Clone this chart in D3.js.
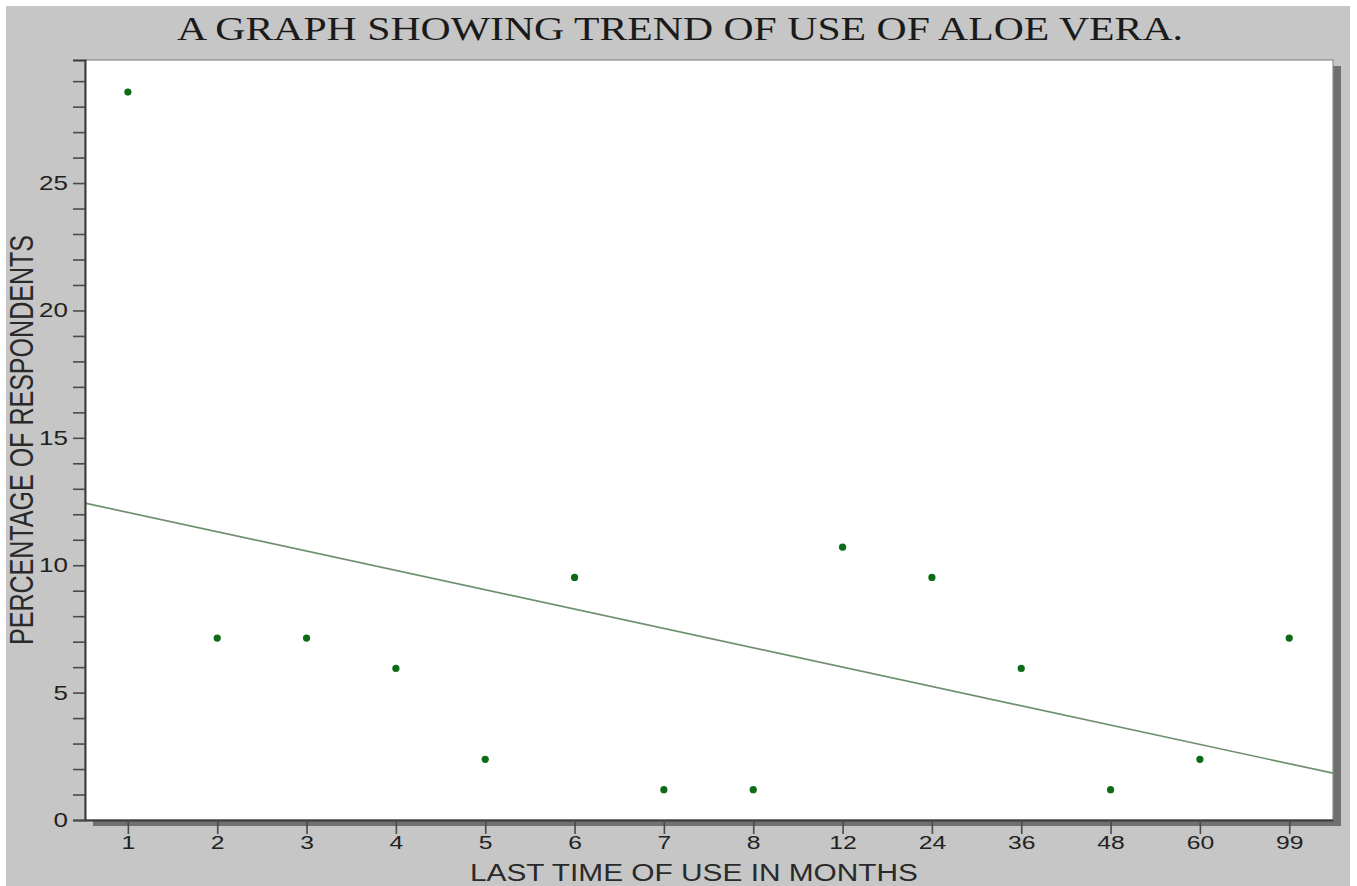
<!DOCTYPE html>
<html>
<head>
<meta charset="utf-8">
<script src="https://cdn.jsdelivr.net/npm/d3@7"></script>
<style>
  html, body { margin: 0; padding: 0; background: #ffffff; }
  svg { display: block; }
</style>
</head>
<body>
<div id="chart"></div>
<script>
// chart data
var months = ["1", "2", "3", "4", "5", "6", "7", "8", "12", "24", "36", "48", "60", "99"];
var percents = [28.57, 7.14, 7.14, 5.95, 2.38, 9.52, 1.19, 1.19, 10.71, 9.52, 5.95, 1.19, 2.38, 7.14];
var yTicks = [0, 5, 10, 15, 20, 25];

var titleText = "A GRAPH SHOWING TREND OF USE OF ALOE VERA.";
var xLabel = "LAST TIME OF USE IN MONTHS";
var yLabel = "PERCENTAGE OF RESPONDENTS";

// set the dimensions of the page and plot box
var W = 1357, H = 886;
var plot = {left: 85, right: 1333, top: 60, bottom: 820};
var stretch = 1.3; // the original picture is stretched sideways
var sans = "Liberation Sans, Arial, sans-serif";

var svg = d3.select("#chart").append("svg")
    .attr("width", W)
    .attr("height", H);

// gray background
svg.append("rect")
    .attr("x", 6).attr("y", 6)
    .attr("width", 1344).attr("height", H - 6)
    .attr("fill", "#c6c6c6");

// set the ranges (x is the category index)
var x = d3.scaleLinear().domain([-0.48, 13.49]).range([plot.left, plot.right]);
var y = d3.scaleLinear().domain([0, 29.83]).range([plot.bottom, plot.top]);

var data = months.map(function(m, i) { return {i: i, m: m, v: percents[i]}; });

// plot box with shadow
svg.append("rect")
    .attr("x", plot.left + 8).attr("y", plot.top + 6)
    .attr("width", plot.right - plot.left).attr("height", plot.bottom - plot.top)
    .attr("fill", "#707070");
svg.append("rect")
    .attr("x", plot.left).attr("y", plot.top)
    .attr("width", plot.right - plot.left).attr("height", plot.bottom - plot.top)
    .attr("fill", "#ffffff")
    .attr("stroke", "#8a8a8a")
    .attr("stroke-width", 1.2);

// least squares trend line over the category index
var mx = d3.mean(data, function(d) { return d.i; });
var my = d3.mean(data, function(d) { return d.v; });
var sxy = d3.sum(data, function(d) { return (d.i - mx) * (d.v - my); });
var sxx = d3.sum(data, function(d) { return (d.i - mx) * (d.i - mx); });
var slope = sxy / sxx, intercept = my - slope * mx;
var trend = x.domain().map(function(xi) { return {i: xi, v: intercept + slope * xi}; });

var valueline = d3.line()
    .x(function(d) { return x(d.i); })
    .y(function(d) { return y(d.v); });

svg.append("path")
    .datum(trend)
    .attr("d", valueline)
    .attr("fill", "none")
    .attr("stroke", "#6f906f")
    .attr("stroke-width", 1.7);

// the points
svg.selectAll(".dot")
    .data(data)
  .enter().append("circle")
    .attr("class", "dot")
    .attr("cx", function(d) { return x(d.i); })
    .attr("cy", function(d) { return y(d.v); })
    .attr("r", 3.6)
    .attr("fill", "#0b6b16");

// y axis with minor ticks every 1
var yAxis = svg.append("g")
    .attr("transform", "translate(" + plot.left + ",0)")
    .call(d3.axisLeft(y).tickValues(d3.range(0, 30, 1)).tickSize(12).tickFormat(function(d) {
        return yTicks.indexOf(d) >= 0 ? d : "";
    }));
yAxis.select(".domain").attr("stroke", "#3a3a3a").attr("stroke-width", 2);
yAxis.selectAll(".tick line").attr("stroke", "#4a4a4a").attr("stroke-width", 1.6);
yAxis.selectAll(".tick text")
    .attr("x", -17 / stretch)
    .attr("transform", "scale(" + stretch + ",1)")
    .attr("fill", "#222")
    .style("font-family", sans)
    .style("font-size", "20px");

// x axis
var xAxis = svg.append("g")
    .attr("transform", "translate(0," + plot.bottom + ")")
    .call(d3.axisBottom(x).tickValues(d3.range(months.length)).tickSize(14).tickSizeOuter(0)
        .tickFormat(function(d) { return months[d]; }));
xAxis.select(".domain").attr("stroke", "#3a3a3a").attr("stroke-width", 2);
xAxis.selectAll(".tick line").attr("stroke", "#4a4a4a").attr("stroke-width", 1.6);
xAxis.selectAll(".tick text")
    .attr("y", 16)
    .attr("transform", "scale(" + stretch + ",1)")
    .attr("fill", "#222")
    .style("font-family", sans)
    .style("font-size", "19px");

// title
svg.append("text")
    .attr("x", 680).attr("y", 40)
    .attr("text-anchor", "middle")
    .attr("textLength", 1006)
    .attr("lengthAdjust", "spacingAndGlyphs")
    .attr("fill", "#1a1a1a")
    .style("font-family", "Liberation Serif, Times New Roman, serif")
    .style("font-size", "34px")
    .text(titleText);

// axis labels
svg.append("text")
    .attr("x", 694).attr("y", 881)
    .attr("text-anchor", "middle")
    .attr("textLength", 448)
    .attr("lengthAdjust", "spacingAndGlyphs")
    .attr("fill", "#2a2a2a")
    .style("font-family", sans)
    .style("font-size", "23px")
    .text(xLabel);

svg.append("text")
    .attr("transform", "translate(33,440) rotate(-90) scale(1," + stretch + ")")
    .attr("text-anchor", "middle")
    .attr("textLength", 410)
    .attr("lengthAdjust", "spacingAndGlyphs")
    .attr("fill", "#2a2a2a")
    .style("font-family", sans)
    .style("font-size", "25px")
    .text(yLabel);
</script>
</body>
</html>
